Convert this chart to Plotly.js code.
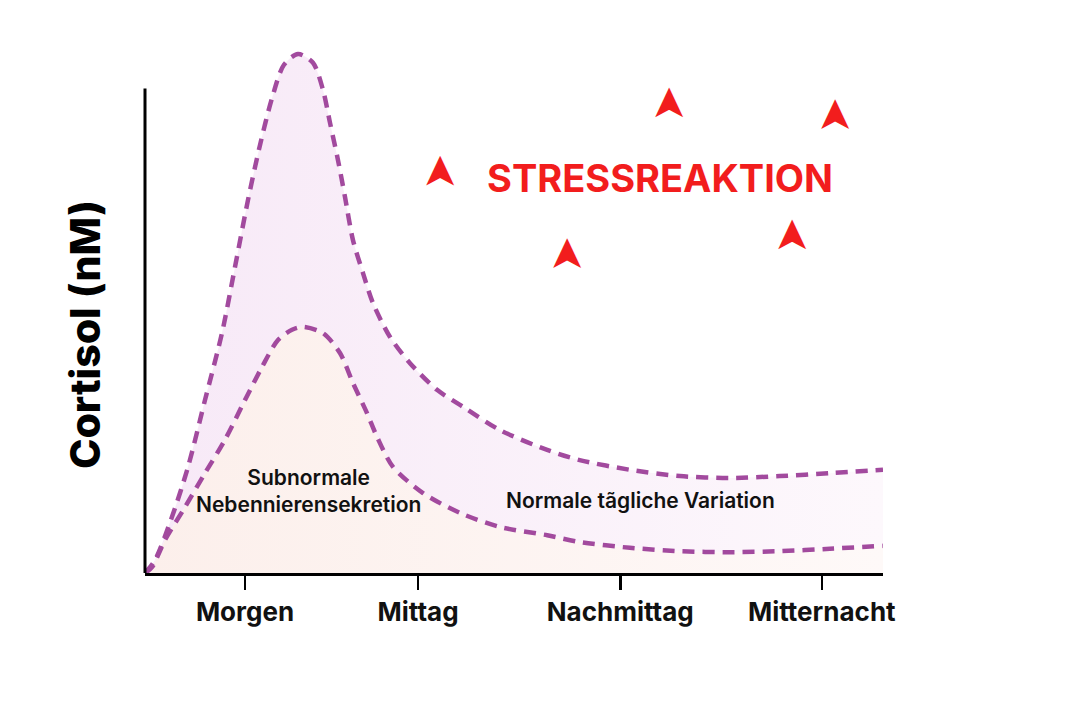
<!DOCTYPE html>
<html>
<head>
<meta charset="utf-8">
<script src="https://cdn.plot.ly/plotly-3.0.1.min.js"></script>
<style>html,body{margin:0;padding:0;background:#fff;}#chart{width:1080px;height:720px;}</style>
</head>
<body>
<div id="chart"></div>
<script>
// Time (arbitrary units, 0-100) and cortisol (arbitrary units)
const upperX = [0, 1.36, 3.66, 5.83, 8.13, 10.43, 12.20, 13.96, 15.58, 17.21, 18.83, 20.73, 22.76, 24.12, 25.07, 26.15, 27.10, 28.18, 29.54, 30.89, 33.20, 35.91, 39.57, 43.09, 48.1, 54.5, 58.9, 65.7, 72.5, 79.3, 86.0, 92.8, 100];
const upperY = [0, 2.7, 11.6, 21.9, 35.7, 49.5, 63.2, 77.0, 88.3, 98.0, 104.9, 107.1, 105.3, 99.7, 92.9, 85.2, 77.6, 68.7, 61.9, 55.7, 48.7, 43.3, 37.8, 34.3, 29.5, 25.4, 23.3, 21.3, 20.0, 19.6, 20.0, 20.6, 21.3];
const lowerX = [0, 0.95, 2.71, 5.42, 8.13, 10.84, 13.55, 15.85, 18.02, 19.92, 21.41, 24.12, 26.42, 28.18, 30.08, 31.44, 33.60, 37.67, 42.68, 48.1, 54.5, 58.9, 65.7, 72.5, 79.3, 86.0, 92.8, 100];
const lowerY = [0, 1.2, 6.8, 13.6, 20.6, 27.5, 35.7, 42.5, 48.1, 50.2, 50.8, 49.5, 45.4, 39.2, 33.0, 28.1, 21.9, 16.5, 12.4, 9.5, 7.8, 6.4, 5.2, 4.5, 4.3, 4.5, 5.0, 5.6];
const tickVals = [13.55, 37.0, 64.4, 91.7];
const tickText = ["Morgen", "Mittag", "Nachmittag", "Mitternacht"];
const stressX = [39.8, 70.9, 93.2, 56.9, 87.4];
const stressY = [82.8, 96.8, 94.5, 65.8, 69.5];

const purple = "#a24a9e";
const FONT = "Inter, 'Open Sans', sans-serif";
const red = "#f21d1d";

const traces = [
  {x: lowerX, y: lowerY, type: "scatter", mode: "lines", fill: "tozeroy",
   fillcolor: "#fdf2ee",
   fillgradient: {type: "horizontal", colorscale: [[0, "#fcefeb"], [1, "#fef9f8"]]},
   line: {color: purple, width: 4.5, dash: "12px,8px", shape: "spline", smoothing: 0.8},
   hoverinfo: "skip"},
  {x: upperX, y: upperY, type: "scatter", mode: "lines", fill: "tonexty",
   fillcolor: "#f8eef8",
   fillgradient: {type: "horizontal", colorscale: [[0, "#f7e9f7"], [1, "#fdf8fc"]]},
   line: {color: purple, width: 4.5, dash: "12px,8px", shape: "spline", smoothing: 0.8},
   hoverinfo: "skip"}
];

const annotations = [
  {text: "Cortisol (nM)", xref: "paper", yref: "paper", x: -0.0813, y: 0.4465,
   textangle: -90, showarrow: false, xanchor: "center", yanchor: "middle",
   font: {family: FONT, size: 41, color: "#000", weight: 800}},
  {text: "STRESSREAKTION", xref: "x", yref: "y", x: 69.8, y: 81.5, showarrow: false,
   font: {family: FONT, size: 38, color: red, weight: 700}},
  {text: "Subnormale<br>Nebennierensekretion", xref: "x", yref: "y", x: 22.2, y: 16.9,
   showarrow: false, font: {family: FONT, size: 21, color: "#111", weight: 600}},
  {text: "Normale tãgliche Variation", xref: "x", yref: "y", x: 67.2, y: 14.9,
   showarrow: false, font: {family: FONT, size: 21, color: "#111", weight: 600}}
];
stressX.forEach((sx, i) => {
  annotations.push({text: "\u27A4", xref: "x", yref: "y", x: sx, y: stressY[i],
    showarrow: false, textangle: -90, xanchor: "center", yanchor: "middle",
    font: {family: "DejaVu Sans", size: 44, color: red}});
});

const layout = {
  width: 1080, height: 720,
  margin: {l: 145, r: 197, t: 40, b: 147},
  paper_bgcolor: "#fff", plot_bgcolor: "rgba(0,0,0,0)",
  showlegend: false,
  xaxis: {range: [0, 100], showgrid: false, zeroline: false, showline: true,
          linecolor: "#000", linewidth: 3, ticks: "outside", ticklen: 14, tickwidth: 2.5,
          tickcolor: "#000", tickvals: tickVals, ticktext: tickText, ticklabelstandoff: 0,
          tickfont: {family: FONT, size: 26, color: "#111", weight: 700}, fixedrange: true},
  yaxis: {range: [0, 110], showgrid: false, zeroline: false, showline: false,
          showticklabels: false, ticks: "", fixedrange: true},
  shapes: [
    {type: "line", xref: "paper", yref: "y", x0: 0, x1: 0, y0: 0, y1: 100,
     line: {color: "#000", width: 3}}
  ],
  annotations: annotations
};

Plotly.newPlot("chart", traces, layout, {displayModeBar: false, staticPlot: true});
</script>
</body>
</html>
